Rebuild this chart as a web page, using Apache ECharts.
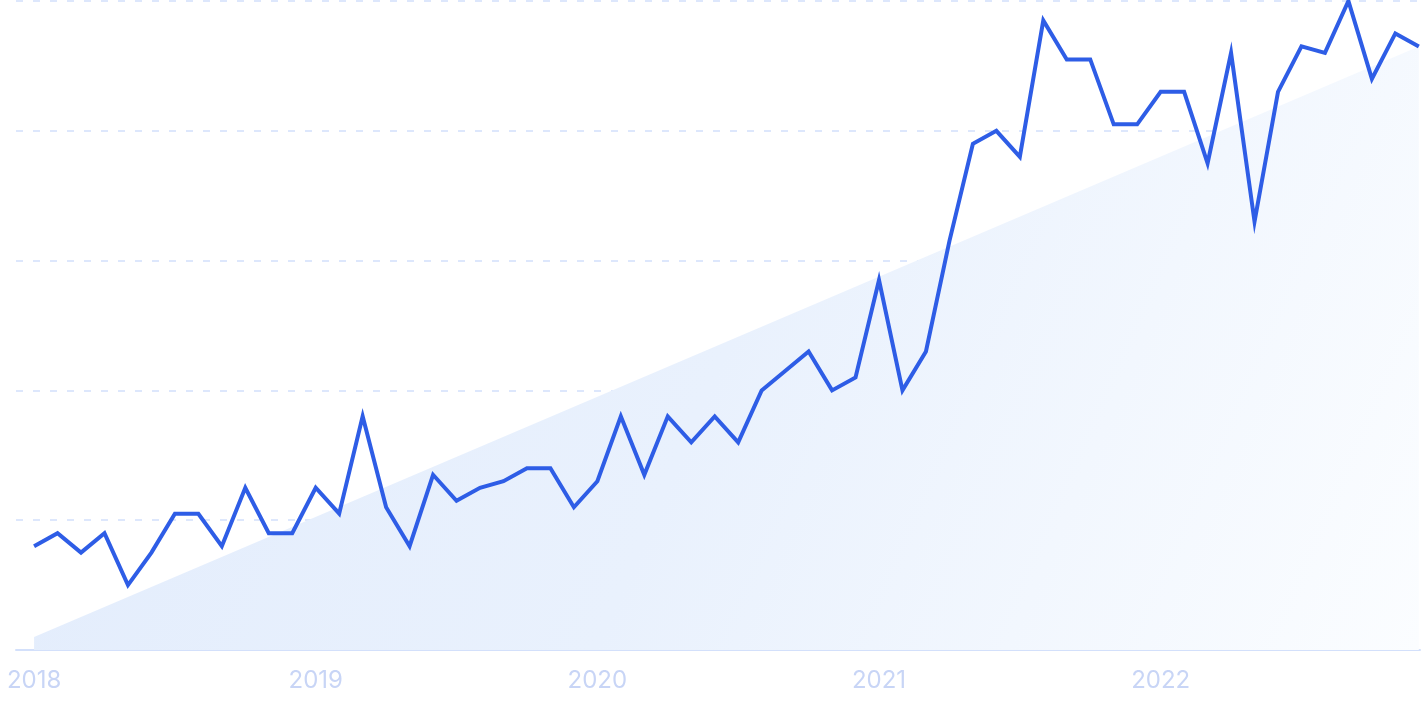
<!DOCTYPE html>
<html>
<head>
<meta charset="utf-8">
<script src="https://cdn.jsdelivr.net/npm/echarts@6/dist/echarts.min.js"></script>
<style>
html,body{margin:0;padding:0;background:#fff;}
#chart{width:1425px;height:712px;}
</style>
</head>
<body>
<div id="chart"></div>
<script>
// Months Jan 2018 .. Dec 2022 (index 0..59)
const months = [
 '2018-01','2018-02','2018-03','2018-04','2018-05','2018-06','2018-07','2018-08','2018-09','2018-10','2018-11','2018-12',
 '2019-01','2019-02','2019-03','2019-04','2019-05','2019-06','2019-07','2019-08','2019-09','2019-10','2019-11','2019-12',
 '2020-01','2020-02','2020-03','2020-04','2020-05','2020-06','2020-07','2020-08','2020-09','2020-10','2020-11','2020-12',
 '2021-01','2021-02','2021-03','2021-04','2021-05','2021-06','2021-07','2021-08','2021-09','2021-10','2021-11','2021-12',
 '2022-01','2022-02','2022-03','2022-04','2022-05','2022-06','2022-07','2022-08','2022-09','2022-10','2022-11','2022-12'
];
const interest = [
 16,18,15,18,10,15,21,21,16,25,18,18,
 25,21,36,22,16,27,23,25,26,28,28,22,
 26,36,27,36,32,36,32,40,43,46,40,42,
 57,40,46,63,78,80,76,97,91,91,81,81,
 86,86,75,92,66,86,93,92,100,88,95,93
];
// trend line: start and end values
const trendIdx = [0, 59];
const trendValues = [2, 93];
const yearLabels = ['2018','2019','2020','2021','2022'];
const yearTickIdx = [0, 12, 24, 36, 48];

const lineData = interest.map((v, i) => [i, v]);
const trendData = trendIdx.map((idx, k) => [idx, trendValues[k]]);

const chart = echarts.init(document.getElementById('chart'), null, {renderer: 'canvas'});
chart.setOption({
  animation: false,
  backgroundColor: '#ffffff',
  grid: {left: 16, right: 5, top: 1, bottom: 62, containLabel: false},
  xAxis: {
    type: 'value',
    min: -0.77,
    max: 59.05,
    axisLine: {show: true, lineStyle: {color: '#d3e0fb', width: 2}},
    axisTick: {show: false},
    splitLine: {show: false},
    axisLabel: {
      customValues: yearTickIdx,
      formatter: function (v) { const k = yearTickIdx.indexOf(Math.round(v)); return k >= 0 ? yearLabels[k] : ''; },
      color: '#c8d5f6',
      fontSize: 24,
      fontFamily: 'Inter',
      margin: 19
    }
  },
  yAxis: {
    type: 'value',
    min: 0,
    max: 100,
    interval: 20,
    axisLine: {show: false},
    axisTick: {show: false},
    axisLabel: {show: false},
    splitLine: {show: true, lineStyle: {color: '#d2dffb', type: [7, 10], width: 1.5}}
  },
  series: [
    {
      type: 'line',
      data: trendData,
      symbol: 'none',
      lineStyle: {width: 0},
      silent: true,
      areaStyle: {
        opacity: 1,
        color: new echarts.graphic.LinearGradient(0, 0, 1, 1, [
          {offset: 0, color: '#e2ecfc'},
          {offset: 0.5, color: '#e9f1fd'},
          {offset: 1, color: '#fbfdff'}
        ])
      },
      z: 1
    },
    {
      type: 'line',
      data: lineData,
      symbol: 'none',
      clip: false,
      lineStyle: {color: '#2e5de6', width: 4, join: 'miter'},
      z: 3
    }
  ]
});
</script>
</body>
</html>
